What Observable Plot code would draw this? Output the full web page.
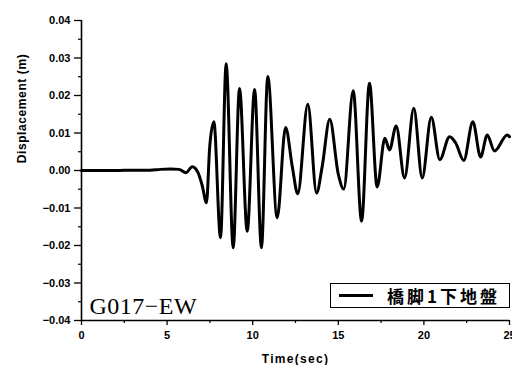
<!DOCTYPE html>
<html>
<head>
<meta charset="utf-8">
<script src="https://cdn.jsdelivr.net/npm/d3@7"></script>
<script src="https://cdn.jsdelivr.net/npm/@observablehq/plot@0.6"></script>
<style>
  html, body { margin: 0; padding: 0; background: #fff; }
  #wrap { position: relative; width: 512px; height: 365px; overflow: hidden; }
  #legend {
    position: absolute; left: 330px; top: 283px; width: 178px; height: 23px;
    border: 1.5px solid #000; box-sizing: content-box; background: #fff;
    display: flex; align-items: center;
  }
  #legend .sw { width: 34px; height: 0; border-top: 3px solid #000; margin-left: 8px; margin-right: 14px; }
  #legend .lb { font-family: "Noto Sans CJK JP", sans-serif; font-weight: 700; font-size: 17px; letter-spacing: 3px; white-space: nowrap; }
</style>
</head>
<body>
<div id="wrap"></div>
<script>
// Time (s) and displacement (m)
const time = [0, 1, 2, 3, 4, 4.6, 5.2, 5.7, 6.1, 6.47, 6.8, 7.05, 7.3, 7.49, 7.73, 8.12, 8.45, 8.86, 9.23, 9.68,
  10.11, 10.51, 10.88, 11.43, 11.92, 12.31, 12.63, 13.22, 13.73, 14.06, 14.5, 15.0, 15.32, 15.87, 16.36, 16.82,
  17.27, 17.72, 17.99, 18.38, 18.87, 19.41, 19.9, 20.43, 20.93, 21.5, 21.85, 22.33, 22.86, 23.31, 23.7, 24.12, 24.87, 25.0];
const disp = [0, 0, 0, 0.0001, 0.0001, 0.0003, 0.0004, 0.0003, -0.0006, 0.001, -0.0005, -0.004, -0.0086, 0.0064, 0.013, -0.0179, 0.0285, -0.0206, 0.0219, -0.0162,
  0.0216, -0.0206, 0.0251, -0.0126, 0.0115, 0.0011, -0.0062, 0.0177, -0.006, 0.0011, 0.0137, -0.001, -0.0049, 0.0213, -0.0135, 0.0233,
  -0.0044, 0.0086, 0.0055, 0.0119, -0.002, 0.0166, -0.002, 0.0142, 0.0029, 0.009, 0.0074, 0.0027, 0.013, 0.0036, 0.0095, 0.0052, 0.0095, 0.009];

const xTicks = [0, 5, 10, 15, 20, 25];
const xMinor = [2.5, 7.5, 12.5, 17.5, 22.5];
const yTicks = [-0.04, -0.03, -0.02, -0.01, 0, 0.01, 0.02, 0.03, 0.04];
const yMinor = [-0.035, -0.025, -0.015, -0.005, 0.005, 0.015, 0.025, 0.035];
const xLabel = "Time(sec)";
const yLabel = "Displacement (m)";
const stationLabel = "G017\u2212EW";
const seriesName = "橋脚1下地盤";

const data = time.map((t, i) => ({t, v: disp[i]}));

const chart = Plot.plot({
  width: 512,
  height: 365,
  marginLeft: 81,
  marginRight: 3,
  marginTop: 20,
  marginBottom: 45,
  style: {background: "#fff", color: "#000", fontFamily: "'Liberation Sans', Arial, sans-serif", fontWeight: "bold", fontSize: "11px"},
  x: {domain: [0, 25]},
  y: {domain: [-0.04, 0.04]},
  marks: [
    Plot.axisX({ticks: xTicks, tickSize: 5, tickPadding: 6, tickFormat: d => String(d), label: null, strokeWidth: 1.3}),
    Plot.axisX({ticks: xMinor, tickSize: 3, tickFormat: () => "", label: null, strokeWidth: 1.2}),
    Plot.axisY({ticks: yTicks, tickSize: 7, tickPadding: 4, tickFormat: d3.format(".2f"), label: null, strokeWidth: 1.3}),
    Plot.axisY({ticks: yMinor, tickSize: 3, tickFormat: () => "", label: null, strokeWidth: 1.2}),
    Plot.ruleX([0], {stroke: "#000", strokeWidth: 1.6}),
    Plot.ruleY([-0.04], {stroke: "#000", strokeWidth: 1.6}),
    Plot.line(data, {x: "t", y: "v", stroke: "#000", strokeWidth: 3, curve: "monotone-x"}),
    Plot.text([stationLabel], {frameAnchor: "bottom-left", dx: 8, dy: -7, textAnchor: "start",
      fontFamily: "'Liberation Serif', 'Times New Roman', serif", fontWeight: "normal", fontSize: 24}),
    Plot.text([xLabel], {frameAnchor: "bottom", dy: 42, fontSize: 12, fill: "#000"}),
    Plot.text([yLabel], {frameAnchor: "top-left", dx: -64, dy: 88, rotate: -90, textAnchor: "middle", fontSize: 12, fill: "#000"})
  ]
});
d3.select(chart).selectAll("text").filter(function(){ return this.textContent === xLabel; }).attr("letter-spacing", "1.3px");
d3.select(chart).selectAll("text").filter(function(){ return this.textContent === yLabel; }).attr("letter-spacing", "0.6px");
d3.select(chart).selectAll("text").filter(function(){ return this.textContent === stationLabel; }).attr("letter-spacing", "0.5px");
const wrap = document.getElementById("wrap");
wrap.appendChild(chart);
const leg = document.createElement("div");
leg.id = "legend";
leg.innerHTML = '<div class="sw"></div><div class="lb"></div>';
leg.querySelector(".lb").textContent = seriesName;
wrap.appendChild(leg);
</script>
</body>
</html>
